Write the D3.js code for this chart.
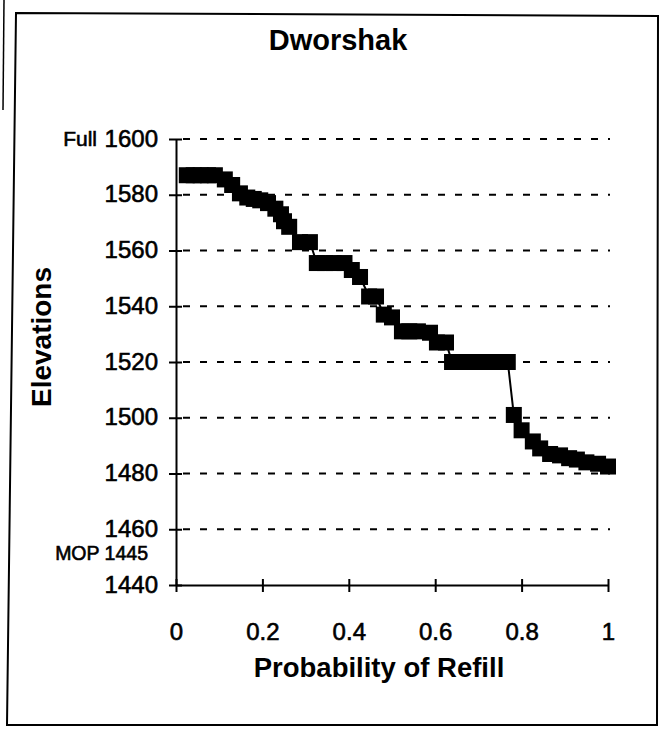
<!DOCTYPE html>
<html>
<head>
<meta charset="utf-8">
<script src="https://cdn.jsdelivr.net/npm/d3@7"></script>
<style>
  html, body { margin: 0; padding: 0; background: #fff; }
  svg { display: block; font-family: "Liberation Sans", Arial, Helvetica, sans-serif; }
  .heavy { stroke: #000; stroke-width: 0.6px; paint-order: stroke; }
</style>
</head>
<body>
<svg id="chart" width="659" height="730"></svg>
<script>
// Probability of refill vs. reservoir elevation (ft), Dworshak
const probability = [
  0.025, 0.041, 0.057, 0.074, 0.09, 0.113, 0.13, 0.148, 0.165, 0.18,
  0.195, 0.213, 0.23, 0.243, 0.25, 0.262, 0.287, 0.31, 0.326, 0.345,
  0.365, 0.39, 0.407, 0.426, 0.447, 0.463, 0.481, 0.5, 0.523, 0.54,
  0.56, 0.588, 0.604, 0.625, 0.639, 0.66, 0.68, 0.7, 0.72, 0.74,
  0.768, 0.782, 0.8, 0.826, 0.843, 0.866, 0.889, 0.91, 0.928, 0.95,
  0.977, 1.0
];
const elevation = [
  1587, 1587, 1587, 1587, 1587, 1585.5, 1583.5, 1580.5, 1579, 1578.5,
  1578, 1577, 1575, 1573, 1570.5, 1568.5, 1563, 1563, 1555.5, 1555.5,
  1555.5, 1555.5, 1553, 1550.5, 1543.5, 1543.5, 1537, 1536, 1531, 1531,
  1531, 1530.5, 1527, 1527, 1520, 1520, 1520, 1520, 1520, 1520,
  1520, 1501, 1495.5, 1491.5, 1489, 1487, 1486.5, 1485.5, 1485, 1484,
  1483.5, 1482.5
];
const yTicks = [1440, 1460, 1480, 1500, 1520, 1540, 1560, 1580, 1600];
const xTicks = [0, 0.2, 0.4, 0.6, 0.8, 1];
const xTickLabels = ["0", "0.2", "0.4", "0.6", "0.8", "1"];
const fullPool = 1600;
const minPool = 1445;

const titleText = "Dworshak";
const xTitle = "Probability of Refill";
const yTitle = "Elevations";

const svg = d3.select("#chart");

// page frame
svg.append("path")
  .attr("d", "M16,13 L658,16 L657,725 L7,725 Z")
  .attr("fill", "none").attr("stroke", "#000").attr("stroke-width", 2);
svg.append("line")
  .attr("x1", 4).attr("y1", 0).attr("x2", 3).attr("y2", 110)
  .attr("stroke", "#000").attr("stroke-width", 1.5);

const x = d3.scaleLinear().domain([0, 1]).range([176, 608]);
const y = d3.scaleLinear().domain([1440, 1600]).range([585, 139]);

// dashed gridlines
svg.append("g").selectAll("line")
  .data(yTicks.filter(v => v > 1440))
  .join("line")
  .attr("x1", x(0) + 7).attr("x2", x(1) + 2)
  .attr("y1", d => y(d)).attr("y2", d => y(d))
  .attr("stroke", "#000").attr("stroke-width", 2)
  .attr("stroke-dasharray", "7,10");

// y axis with crossing ticks
const gy = svg.append("g")
  .attr("transform", `translate(${x(0)},0)`)
  .call(d3.axisLeft(y).tickValues(yTicks).tickSize(6).tickSizeOuter(0).tickFormat(d3.format("d")));
gy.select(".domain").attr("stroke-width", 2);
gy.selectAll(".tick line").attr("x1", 6).attr("x2", -7).attr("stroke-width", 2);
gy.selectAll(".tick text")
  .attr("class", "heavy")
  .attr("x", -18).attr("dy", "0.3em")
  .attr("font-size", 24).attr("fill", "#000")
  .style("font-family", "'Liberation Sans', Arial, sans-serif");

// x axis with crossing ticks
const gx = svg.append("g")
  .attr("transform", `translate(0,${y(1440)})`)
  .call(d3.axisBottom(x).tickValues(xTicks).tickSize(6).tickSizeOuter(0)
    .tickFormat((d, i) => xTickLabels[i]));
gx.select(".domain").attr("stroke-width", 2);
gx.selectAll(".tick line").attr("y1", -6).attr("y2", 7).attr("stroke-width", 2);
gx.selectAll(".tick text")
  .attr("class", "heavy")
  .attr("y", 55).attr("dy", 0)
  .attr("font-size", 24).attr("fill", "#000")
  .style("font-family", "'Liberation Sans', Arial, sans-serif");

// pool level annotations
svg.append("text")
  .attr("class", "heavy")
  .attr("x", 97).attr("y", y(fullPool) + 7)
  .attr("text-anchor", "end").attr("font-size", 21)
  .text("Full");
svg.append("text")
  .attr("class", "heavy")
  .attr("x", 148).attr("y", y(1440) - 25)
  .attr("text-anchor", "end").attr("font-size", 19.5)
  .text("MOP " + minPool);

// curve
const pts = probability.map((p, i) => [p, elevation[i]]);
svg.append("path")
  .datum(pts)
  .attr("fill", "none").attr("stroke", "#000").attr("stroke-width", 2)
  .attr("d", d3.line().x(d => x(d[0])).y(d => y(d[1])));

const m = 16;
svg.append("g").selectAll("rect")
  .data(pts)
  .join("rect")
  .attr("x", d => x(d[0]) - m / 2).attr("y", d => y(d[1]) - m / 2)
  .attr("width", m).attr("height", m)
  .attr("fill", "#000");

// titles
svg.append("text")
  .attr("x", 338).attr("y", 50)
  .attr("text-anchor", "middle").attr("font-size", 29).attr("font-weight", "bold")
  .text(titleText);
svg.append("text")
  .attr("x", 379).attr("y", 677)
  .attr("text-anchor", "middle").attr("font-size", 27.5).attr("font-weight", "bold")
  .text(xTitle);
svg.append("text")
  .attr("transform", "translate(51,337) rotate(-90)")
  .attr("text-anchor", "middle").attr("font-size", 28).attr("font-weight", "bold")
  .text(yTitle);
</script>
</body>
</html>
